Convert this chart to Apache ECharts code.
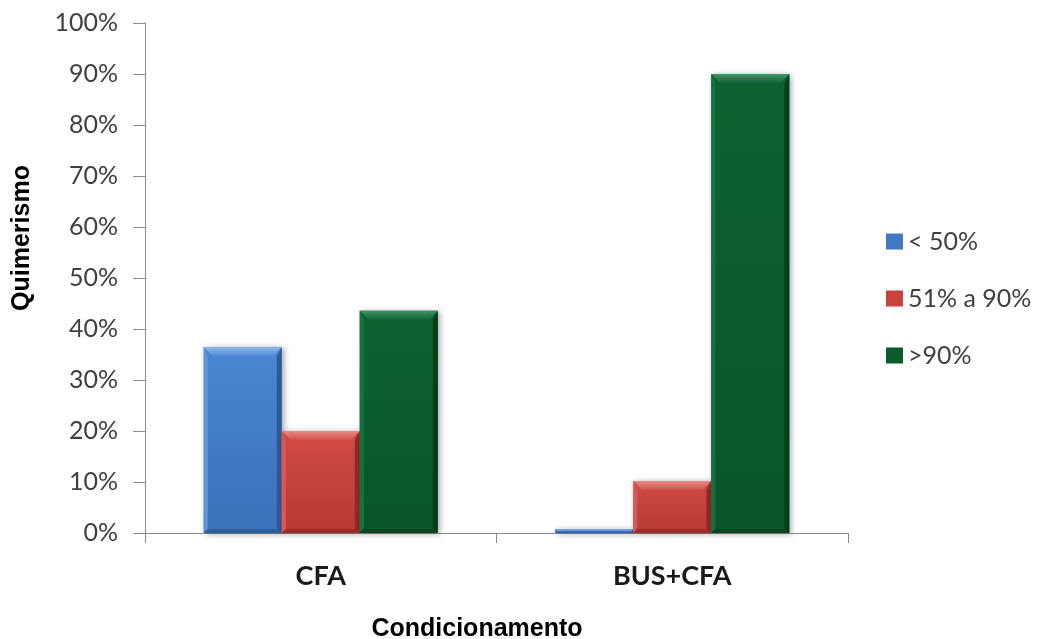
<!DOCTYPE html>
<html>
<head>
<meta charset="utf-8">
<script src="https://cdn.jsdelivr.net/npm/echarts@6/dist/echarts.min.js"></script>
<style>
  html, body { margin: 0; padding: 0; background: #ffffff; }
  #chart { width: 1041px; height: 639px; }
</style>
</head>
<body>
<div id="chart"></div>
<script>
// Conditioning regimens on the x axis
var categories = ['CFA', 'BUS+CFA'];
// Share of patients per chimerism range (%)
var seriesNames = ['< 50%', '51% a 90%', '>90%'];
var lowChimerism = [36.4, 0.8];
var midChimerism = [20, 10.2];
var highChimerism = [43.6, 90];
var yTicks = [0, 10, 20, 30, 40, 50, 60, 70, 80, 90, 100];

// Bevel palette per series: body top/bottom, top face, left, right, bottom edges
var palettes = [
  { body: ['#4A86D4', '#3B70BA'], top: ['#8DB6EA', '#4F89D6'], left: '#5E95DB', right: '#2C5A97', bottom: '#2F5E9E', legend: '#4279C4' },
  { body: ['#D14A46', '#B83935'], top: ['#EA8A87', '#D0524E'], left: '#D65B57', right: '#922826', bottom: '#9C2D2A', legend: '#C8423E' },
  { body: ['#0D6331', '#0A5529'], top: ['#3E9462', '#12673A'], left: '#167040', right: '#043F1C', bottom: '#054620', legend: '#0B5C2D' }
];

var BAR_RATIO = 0.222;

function makeRender(k) {
  var pal = palettes[k];
  return function (params, api) {
    var cat = api.value(0);
    var val = api.value(1);
    var top = api.coord([cat, val]);
    var base = api.coord([cat, 0]);
    var band = api.size([1, 0])[0];
    var bw = band * BAR_RATIO;
    var x0 = top[0] - 1.5 * bw + k * bw;
    var x1 = x0 + bw;
    var y0 = top[1];
    var y1 = base[1];
    var h = y1 - y0;
    var b = Math.min(9, h / 2, bw / 2);
    var children = [
      {
        type: 'rect',
        shape: { x: x0, y: y0, width: bw, height: h },
        style: {
          fill: new echarts.graphic.LinearGradient(0, 0, 0, 1, [
            { offset: 0, color: pal.body[0] },
            { offset: 1, color: pal.body[1] }
          ]),
          shadowBlur: 6,
          shadowOffsetX: 2,
          shadowOffsetY: 1,
          shadowColor: 'rgba(0,0,0,0.35)'
        }
      }
    ];
    if (h > 2) {
      children.push(
        { type: 'polygon', shape: { points: [[x0, y0], [x0 + b * 0.45, y0 + b], [x0 + b * 0.45, y1 - b * 0.45], [x0, y1]] }, style: { fill: pal.left } },
        { type: 'polygon', shape: { points: [[x1, y0], [x1 - b * 0.55, y0 + b], [x1 - b * 0.55, y1 - b * 0.45], [x1, y1]] }, style: { fill: pal.right } },
        { type: 'polygon', shape: { points: [[x0, y1], [x0 + b * 0.45, y1 - b * 0.45], [x1 - b * 0.55, y1 - b * 0.45], [x1, y1]] }, style: { fill: pal.bottom } },
        {
          type: 'polygon',
          shape: { points: [[x0, y0], [x1, y0], [x1 - b, y0 + b], [x0 + b, y0 + b]] },
          style: {
            fill: new echarts.graphic.LinearGradient(0, 0, 0, 1, [
              { offset: 0, color: pal.top[0] },
              { offset: 1, color: pal.top[1] }
            ])
          }
        }
      );
    }
    return { type: 'group', children: children };
  };
}

function toPairs(values) {
  return values.map(function (v, i) { return [i, v]; });
}

var allValues = [lowChimerism, midChimerism, highChimerism];

var chart = echarts.init(document.getElementById('chart'), null, { renderer: 'canvas' });

chart.setOption({
  backgroundColor: '#ffffff',
  animation: false,
  grid: { left: 145, right: 193, top: 23, bottom: 106, containLabel: false },
  legend: {
    orient: 'vertical',
    left: 886,
    top: 229,
    padding: 0,
    itemWidth: 17,
    itemHeight: 16,
    itemGap: 32,
    itemTextGap: 8,
    icon: 'rect',
    data: seriesNames.map(function (n, i) {
      return { name: n, itemStyle: { color: palettes[i].legend } };
    }),
    textStyle: { fontFamily: 'Lato', fontSize: 25, lineHeight: 24, color: '#404040' }
  },
  xAxis: {
    type: 'category',
    data: categories,
    boundaryGap: true,
    axisLine: { lineStyle: { color: '#8a8a8a', width: 1 } },
    axisTick: { show: true, alignWithLabel: false, length: 10, lineStyle: { color: '#8a8a8a' } },
    axisLabel: { margin: 30, fontFamily: 'Lato', fontWeight: 'bold', fontSize: 27, color: '#1a1a1a' },
    splitLine: { show: false }
  },
  yAxis: {
    type: 'value',
    min: yTicks[0],
    max: yTicks[yTicks.length - 1],
    interval: yTicks[1] - yTicks[0],
    axisLine: { show: true, lineStyle: { color: '#8a8a8a', width: 1 } },
    axisTick: { show: true, inside: false, length: 12, lineStyle: { color: '#8a8a8a' } },
    axisLabel: { margin: 27, formatter: '{value}%', fontFamily: 'Lato', fontSize: 25, color: '#404040' },
    splitLine: { show: false }
  },
  graphic: [
    {
      type: 'text',
      x: 477,
      y: 629,
      style: {
        text: 'Condicionamento',
        font: 'bold 25px "Liberation Sans", Arial, sans-serif',
        fill: '#000000',
        textAlign: 'center',
        textVerticalAlign: 'middle'
      }
    },
    {
      type: 'text',
      x: 22,
      y: 238,
      rotation: Math.PI / 2,
      style: {
        text: 'Quimerismo',
        font: 'bold 25px "Liberation Sans", Arial, sans-serif',
        fill: '#000000',
        textAlign: 'center',
        textVerticalAlign: 'middle'
      }
    }
  ],
  series: seriesNames.map(function (name, k) {
    return {
      name: name,
      type: 'custom',
      renderItem: makeRender(k),
      itemStyle: { color: palettes[k].legend },
      encode: { x: 0, y: 1 },
      data: toPairs(allValues[k])
    };
  })
});
</script>
</body>
</html>
